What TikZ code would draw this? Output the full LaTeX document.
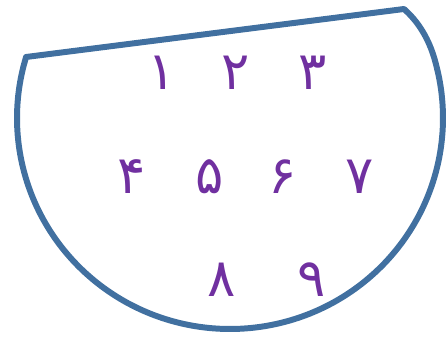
\documentclass[tikz,border=0pt]{standalone}
\usepackage{fontspec}
\newfontfamily\arabicfont[Script=Arabic]{DejaVu Sans}
\TeXXeTstate=1
\definecolor{rimblue}{RGB}{65,112,160}
\definecolor{digitpurple}{RGB}{112,48,160}

\begin{document}
\begin{tikzpicture}[
  x=0.02cm, y=-0.02cm,
  rim/.style={draw=rimblue, line width=3.4pt, line join=round},
  digit/.style={text=digitpurple, font=\arabicfont\fontsize{30}{34}\selectfont, inner sep=0pt}
]
  \useasboundingbox (0,0) rectangle (447,338);

  % Outline
  \draw[rim] (404,9) -- (26,57)
    -- plot[domain=196.8:-15, samples=80, smooth] ({230+213*cos(\x)},{118+211*sin(\x)})
    .. controls (428,33) and (413,17) .. (404,9) -- cycle;

  % Digits
  \node[digit] (one) at (162,73) {\beginR ۱\endR};
  \node[digit] (two) at (236,73) {\beginR ۲\endR};
  \node[digit] (three) at (313,73) {\beginR ۳\endR};
  \node[digit] (four) at (132,177) {\beginR ۴\endR};
  \node[digit] (five) at (210,177) {\beginR ۵\endR};
  \node[digit] (six) at (283,177) {\beginR ۶\endR};
  \node[digit] (seven) at (360,177) {\beginR ۷\endR};
  \node[digit] (eight) at (222,280) {\beginR ۸\endR};
  \node[digit] (nine) at (312,280) {\beginR ۹\endR};
\end{tikzpicture}
\end{document}
